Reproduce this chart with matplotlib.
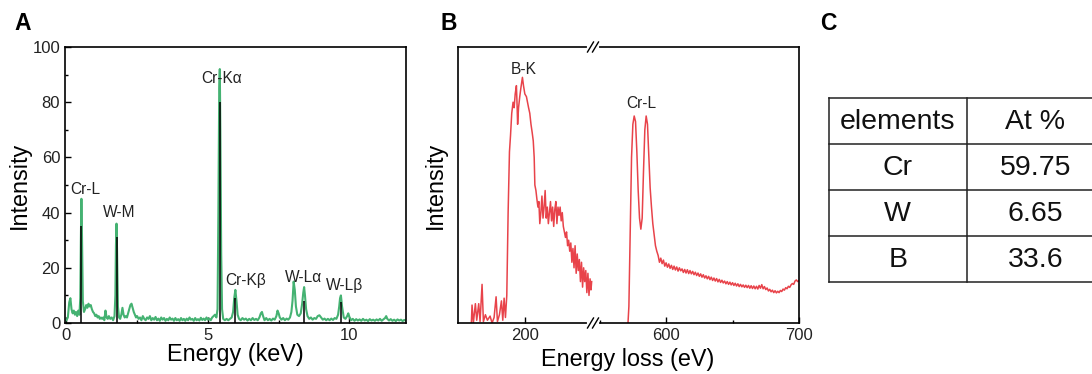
import matplotlib
matplotlib.use("Agg")
import matplotlib.pyplot as plt
from matplotlib.ticker import MultipleLocator, NullLocator
from matplotlib.lines import Line2D

plt.rcParams['font.family'] = ['Liberation Sans', 'DejaVu Sans']

# ---------------- Panel A: EDS spectrum ----------------
eds_points = [
    (0.00, 1.0), (0.05, 2.0), (0.10, 7.5), (0.14, 9.0), (0.18, 5.0), (0.22, 3.5), (0.26, 4.5),
    (0.30, 3.0), (0.34, 4.0), (0.38, 2.5), (0.42, 4.5), (0.46, 3.0), (0.49, 9.0), (0.51, 30.0),
    (0.53, 45.0), (0.55, 32.0), (0.58, 8.0), (0.62, 4.0), (0.66, 5.0), (0.70, 6.5), (0.74, 5.5),
    (0.78, 7.0), (0.82, 6.0), (0.86, 6.5), (0.90, 5.0), (0.94, 4.0), (0.98, 3.5), (1.02, 2.5),
    (1.06, 3.0), (1.10, 2.0), (1.14, 2.5), (1.18, 1.5), (1.22, 2.0), (1.26, 1.5), (1.30, 2.0),
    (1.34, 1.0), (1.38, 4.5), (1.42, 2.0), (1.46, 1.5), (1.50, 2.5), (1.55, 1.5), (1.60, 2.0),
    (1.65, 1.0), (1.70, 2.5), (1.73, 10.0), (1.75, 28.0), (1.77, 36.0), (1.79, 26.0), (1.82, 6.0),
    (1.86, 2.0), (1.90, 1.5), (1.94, 3.0), (1.98, 5.5), (2.02, 3.0), (2.06, 2.0), (2.10, 2.5),
    (2.14, 2.0), (2.18, 3.5), (2.22, 5.0), (2.26, 6.5), (2.30, 7.0), (2.34, 5.5), (2.38, 4.0),
    (2.42, 3.0), (2.46, 2.0), (2.50, 2.5), (2.55, 1.5), (2.60, 2.0), (2.65, 1.0), (2.70, 2.5),
    (2.75, 1.5), (2.80, 1.0), (2.85, 2.0), (2.90, 1.5), (2.95, 2.5), (3.00, 1.0), (3.05, 1.8),
    (3.10, 1.2), (3.15, 2.2), (3.20, 1.0), (3.25, 1.6), (3.30, 0.8), (3.35, 2.0), (3.40, 1.2),
    (3.45, 1.8), (3.50, 0.8), (3.55, 1.5), (3.60, 1.0), (3.65, 2.0), (3.70, 1.2), (3.75, 1.6),
    (3.80, 0.8), (3.85, 1.8), (3.90, 1.0), (3.95, 1.4), (4.00, 0.8), (4.05, 1.8), (4.10, 1.0),
    (4.15, 1.5), (4.20, 0.8), (4.25, 1.6), (4.30, 1.0), (4.35, 2.0), (4.40, 1.2), (4.45, 1.5),
    (4.50, 0.8), (4.55, 1.8), (4.60, 1.0), (4.65, 1.4), (4.70, 0.9), (4.75, 1.9), (4.80, 1.1),
    (4.85, 1.6), (4.90, 1.0), (4.95, 2.0), (5.00, 1.2), (5.05, 1.6), (5.10, 1.0), (5.15, 2.0),
    (5.20, 2.5), (5.25, 3.0), (5.30, 2.0), (5.34, 5.0), (5.37, 40.0), (5.40, 85.0), (5.42, 92.0),
    (5.44, 70.0), (5.47, 25.0), (5.50, 5.0), (5.54, 1.5), (5.60, 1.0), (5.66, 1.5), (5.72, 1.0),
    (5.78, 1.5), (5.84, 2.0), (5.89, 4.0), (5.93, 9.0), (5.97, 12.0), (6.01, 8.0), (6.05, 3.0),
    (6.10, 1.5), (6.16, 1.0), (6.22, 1.8), (6.28, 1.2), (6.34, 1.6), (6.40, 0.9), (6.46, 1.5),
    (6.52, 1.0), (6.58, 1.8), (6.64, 1.1), (6.70, 1.5), (6.76, 1.0), (6.82, 2.0), (6.87, 3.5),
    (6.91, 4.0), (6.95, 2.5), (7.00, 1.0), (7.06, 1.8), (7.12, 1.0), (7.18, 1.5), (7.24, 0.9),
    (7.30, 1.6), (7.36, 1.2), (7.42, 2.5), (7.46, 4.5), (7.50, 3.5), (7.54, 2.0), (7.60, 1.2),
    (7.66, 1.8), (7.72, 1.0), (7.78, 1.6), (7.84, 1.2), (7.90, 2.0), (7.95, 4.0), (7.99, 8.0),
    (8.03, 15.0), (8.07, 12.0), (8.11, 6.0), (8.16, 3.0), (8.22, 2.5), (8.28, 3.5), (8.33, 7.0),
    (8.37, 11.0), (8.40, 13.0), (8.43, 10.0), (8.47, 5.0), (8.52, 2.5), (8.58, 1.5), (8.64, 2.0),
    (8.70, 1.2), (8.76, 1.8), (8.82, 1.5), (8.88, 2.5), (8.94, 2.8), (9.00, 2.0), (9.06, 1.2),
    (9.12, 1.6), (9.18, 1.0), (9.24, 1.5), (9.30, 1.0), (9.36, 1.6), (9.42, 1.1), (9.48, 1.8),
    (9.54, 1.5), (9.60, 3.0), (9.64, 6.0), (9.67, 9.0), (9.70, 10.0), (9.74, 6.0), (9.80, 2.0),
    (9.86, 1.5), (9.92, 2.5), (9.96, 3.5), (10.00, 2.2), (10.06, 1.0), (10.12, 1.5), (10.18, 0.8),
    (10.24, 1.4), (10.30, 0.9), (10.36, 1.3), (10.42, 0.8), (10.48, 1.5), (10.54, 0.9),
    (10.60, 1.2), (10.66, 0.7), (10.72, 1.4), (10.78, 0.9), (10.84, 1.2), (10.90, 0.8),
    (10.96, 1.3), (11.02, 0.9), (11.08, 1.5), (11.14, 0.8), (11.20, 1.3), (11.26, 1.8),
    (11.30, 2.5), (11.34, 1.5), (11.40, 0.9), (11.46, 1.4), (11.52, 0.8), (11.58, 1.2),
    (11.64, 0.7), (11.70, 1.3), (11.76, 0.9), (11.82, 1.2), (11.88, 0.7), (11.94, 1.1), (12.00, 0.8),
]
eds_energy = [p[0] for p in eds_points]
eds_intensity = [p[1] for p in eds_points]

# reference (black) lines
ref_energy = [0.52, 1.77, 5.42, 5.97, 8.40, 9.69]
ref_height = [35, 31, 80, 9, 8, 7.5]

eds_labels = ['Cr-L', 'W-M', 'Cr-Kα', 'Cr-Kβ', 'W-Lα', 'W-Lβ']
eds_label_x = [0.12, 1.85, 5.48, 6.33, 8.39, 9.82]
eds_label_y = [48.5, 40.0, 88.5, 15.5, 16.5, 13.5]
eds_label_ha = ['left', 'center', 'center', 'center', 'center', 'center']

# ---------------- Panel B: EELS spectrum ----------------
eels_low_points = [
    (160.0, 0.0), (160.5, 6.5), (161.5, 0.0), (163.0, 7.0), (164.0, 1.0), (165.5, 7.0),
    (166.5, 0.5), (168.0, 14.0), (169.0, 0.5), (170.5, 3.0), (172.0, 1.0), (174.0, 2.5),
    (175.5, 0.0), (177.0, 2.0), (178.5, 9.5), (179.5, 0.5), (181.0, 3.0), (182.5, 8.0),
    (183.5, 1.0), (184.5, 9.0), (185.5, 2.0), (186.5, 10.0), (187.5, 40.0), (188.5, 62.0),
    (189.3, 68.0), (190.2, 76.0), (191.2, 80.0), (192.0, 78.0), (192.8, 83.0), (193.7, 86.0),
    (194.2, 79.0), (194.6, 72.0), (195.3, 78.0), (196.2, 82.0), (197.0, 85.0), (198.2, 89.0),
    (199.0, 86.0), (200.0, 83.0), (201.2, 82.0), (202.0, 80.0), (202.8, 78.0), (203.7, 76.0),
    (204.6, 72.0), (205.5, 69.0), (206.3, 66.0), (207.0, 60.0), (207.5, 50.0), (208.3, 48.0),
    (209.0, 45.0), (209.8, 42.0), (210.5, 44.0), (211.2, 36.0), (212.0, 40.0), (212.8, 46.0),
    (213.6, 38.0), (214.4, 42.0), (215.2, 48.0), (216.0, 38.0), (216.8, 42.0), (217.6, 36.0),
    (218.4, 40.0), (219.2, 44.0), (220.0, 37.0), (220.8, 42.0), (221.6, 35.0), (222.4, 41.0),
    (223.2, 44.0), (224.0, 36.0), (224.8, 42.0), (225.6, 39.0), (226.4, 42.0), (227.2, 37.0),
    (228.0, 40.0), (228.8, 35.0), (229.6, 33.0), (230.4, 31.0), (231.2, 33.0), (232.0, 28.0),
    (232.8, 30.0), (233.6, 26.0), (234.4, 29.0), (235.2, 22.0), (236.0, 27.0), (236.8, 20.0),
    (237.6, 28.0), (238.4, 18.0), (239.2, 25.0), (240.0, 19.0), (240.8, 23.0), (241.6, 15.0),
    (242.4, 22.0), (243.2, 13.0), (244.0, 20.0), (244.8, 15.0), (245.6, 19.0), (246.4, 11.0),
    (247.2, 18.0), (248.0, 10.0), (248.8, 16.0), (249.5, 12.0), (250.0, 15.0),
]
eels_low_energy = [p[0] for p in eels_low_points]
eels_low_intensity = [p[1] for p in eels_low_points]

eels_high_points = [
    (571.0, -3.0), (572.0, 6.0), (573.0, 32.0), (574.0, 60.0), (575.0, 72.0), (576.0, 75.0),
    (577.0, 73.0), (578.0, 62.0), (579.0, 48.0), (580.0, 38.0), (581.0, 34.0), (582.0, 38.0),
    (583.0, 55.0), (584.0, 70.0), (585.0, 75.0), (586.0, 72.0), (587.0, 60.0), (588.0, 49.0),
    (589.0, 42.0), (590.0, 36.0), (591.0, 32.0), (592.0, 28.0), (593.0, 26.0), (594.0, 24.5),
    (595.0, 22.0), (596.0, 23.5), (597.0, 21.5), (598.0, 22.8), (599.0, 20.6), (600.0, 21.8),
    (601.0, 20.2), (602.0, 21.4), (603.0, 19.8), (604.0, 20.9), (605.0, 19.4), (606.0, 20.6),
    (607.0, 19.2), (608.0, 20.3), (609.0, 18.8), (610.0, 20.0), (611.0, 18.9), (612.0, 19.6),
    (613.0, 18.3), (614.0, 19.4), (615.0, 18.1), (616.0, 19.3), (617.0, 17.9), (618.0, 19.0),
    (619.0, 17.8), (620.0, 18.7), (621.0, 17.5), (622.0, 18.4), (623.0, 17.2), (624.0, 18.1),
    (625.0, 16.9), (626.0, 17.8), (627.0, 16.6), (628.0, 17.5), (629.0, 16.3), (630.0, 17.1),
    (631.0, 16.0), (632.0, 16.9), (633.0, 15.7), (634.0, 16.6), (635.0, 15.4), (636.0, 16.3),
    (637.0, 15.2), (638.0, 16.1), (639.0, 14.9), (640.0, 15.8), (641.0, 14.7), (642.0, 15.5),
    (643.0, 14.5), (644.0, 15.2), (645.0, 14.2), (646.0, 15.0), (647.0, 14.0), (648.0, 14.8),
    (649.0, 13.8), (650.0, 14.6), (651.0, 13.6), (652.0, 14.4), (653.0, 13.4), (654.0, 14.2),
    (655.0, 13.2), (656.0, 14.0), (657.0, 13.1), (658.0, 13.8), (659.0, 12.9), (660.0, 13.7),
    (661.0, 12.8), (662.0, 13.6), (663.0, 12.6), (664.0, 13.5), (665.0, 12.5), (666.0, 13.4),
    (667.0, 12.4), (668.0, 13.3), (669.0, 12.3), (670.0, 13.6), (671.0, 12.6), (672.0, 13.9),
    (673.0, 12.4), (674.0, 13.2), (675.0, 12.1), (676.0, 12.7), (677.0, 11.6), (678.0, 12.2),
    (679.0, 11.3), (680.0, 11.9), (681.0, 11.0), (682.0, 11.7), (683.0, 10.9), (684.0, 11.5),
    (685.0, 11.0), (686.0, 11.8), (687.0, 11.4), (688.0, 12.3), (689.0, 11.9), (690.0, 12.8),
    (691.0, 12.4), (692.0, 13.3), (693.0, 12.9), (694.0, 13.8), (695.0, 14.3), (696.0, 14.0),
    (697.0, 15.2), (698.0, 15.6), (699.0, 15.0), (700.0, 15.4),
]
eels_high_energy = [p[0] for p in eels_high_points]
eels_high_intensity = [p[1] for p in eels_high_points]

eels_labels = ['B-K', 'Cr-L']
eels_label_x = [199.0, 581.0]
eels_label_y = [92.0, 79.5]

# ---------------- Panel C: table ----------------
table_header = ['elements', 'At %']
table_elements = ['Cr', 'W', 'B']
table_at_pct = ['59.75', '6.65', '33.6']

# ======================================================
W, H = 1092, 374
fig = plt.figure(figsize=(W / 100, H / 100), dpi=100)

def rect(x0, y0, x1, y1):
    return [x0 / W, 1 - y1 / H, (x1 - x0) / W, (y1 - y0) / H]

green = '#45b272'
red = '#e8434a'
tick_fs = 12
label_fs = 16.8
ann_fs = 11.2
spine_lw = 1.2

# ---- A ----
axA = fig.add_axes(rect(65, 47, 406, 323))
axA.plot(eds_energy, eds_intensity, color=green, lw=1.5)
axA.vlines(ref_energy, 0, ref_height, color='black', lw=1.1)
axA.set_xlim(-0.05, 12)
axA.set_ylim(0, 100)
axA.xaxis.set_major_locator(MultipleLocator(5))
axA.xaxis.set_minor_locator(MultipleLocator(2.5))
axA.yaxis.set_major_locator(MultipleLocator(20))
axA.yaxis.set_minor_locator(MultipleLocator(10))
axA.tick_params(which='both', direction='in', labelsize=tick_fs, width=1.0, labelcolor='#222222')
axA.tick_params(which='major', length=4)
axA.tick_params(which='minor', length=2.5)
axA.set_xlabel('Energy (keV)', fontsize=label_fs, labelpad=0)
axA.set_ylabel('Intensity', fontsize=label_fs, labelpad=1)
for s in axA.spines.values():
    s.set_linewidth(spine_lw)
for t, x, y, ha in zip(eds_labels, eds_label_x, eds_label_y, eds_label_ha):
    axA.text(x, y, t, fontsize=ann_fs, ha=ha, va='center', color='#222222')

# ---- B ----
axB1 = fig.add_axes(rect(458, 47, 593, 323))
axB2 = fig.add_axes(rect(593, 47, 799, 323))
axB1.plot(eels_low_energy, eels_low_intensity, color=red, lw=1.1)
axB2.plot(eels_high_energy, eels_high_intensity, color=red, lw=1.1)
axB1.set_xlim(150, 251)
axB2.set_xlim(545, 700)
for ax in (axB1, axB2):
    ax.set_ylim(0, 100)
    ax.yaxis.set_major_locator(NullLocator())
    ax.tick_params(which='both', direction='in', labelsize=tick_fs, width=1.0, labelcolor='#222222')
    ax.tick_params(which='major', length=4)
    ax.tick_params(which='minor', length=2.5)
    for s in ax.spines.values():
        s.set_linewidth(spine_lw)
axB1.set_xticks([200])
axB2.set_xticks([600, 700])
axB2.xaxis.set_minor_locator(MultipleLocator(50))
axB1.spines['right'].set_visible(False)
axB2.spines['left'].set_visible(False)
axB1.set_ylabel('Intensity', fontsize=label_fs, labelpad=8)
fig.text(628 / W, 1 - 371 / H, 'Energy loss (eV)', fontsize=label_fs, ha='center', va='bottom')
for t, x, y in zip(eels_labels, eels_label_x, eels_label_y):
    ax = axB1 if x < 300 else axB2
    ax.text(x, y, t, fontsize=ann_fs, ha='center', va='center', color='#222222')

# break marks
for yb in (47, 323):
    fig.add_artist(Line2D([589 / W, 597 / W], [1 - yb / H, 1 - yb / H], color='white', lw=3,
                          transform=fig.transFigure))
    for dx in (-2.5, 2.5):
        xc = 593 + dx
        fig.add_artist(Line2D([(xc - 3) / W, (xc + 3) / W], [1 - (yb + 5) / H, 1 - (yb - 5) / H],
                              color='black', lw=1.0, transform=fig.transFigure))

# ---- C (table) ----
axC = fig.add_axes(rect(829, 98, 1104, 282))
axC.set_xlim(0, 2)
axC.set_ylim(4, 0)
axC.axis('off')
n_rows = len(table_elements) + 1
for r in range(n_rows + 1):
    axC.plot([0, 2], [r, r], color='#222222', lw=1.1, clip_on=False)
for c in (0, 1, 2):
    axC.plot([c, c], [0, n_rows], color='#222222', lw=1.1, clip_on=False)
rows = [table_header] + [[e, v] for e, v in zip(table_elements, table_at_pct)]
for r, row in enumerate(rows):
    for c, txt in enumerate(row):
        axC.text(c + 0.5, r + 0.52, txt, fontsize=20.5, ha='center', va='center', color='#111111')

# panel letters
fig.text(14 / W, 1 - 35 / H, 'A', fontsize=16.5, fontweight='bold', ha='left', va='bottom')
fig.text(440 / W, 1 - 35 / H, 'B', fontsize=16.5, fontweight='bold', ha='left', va='bottom')
fig.text(820 / W, 1 - 35 / H, 'C', fontsize=16.5, fontweight='bold', ha='left', va='bottom')

fig.savefig('out.png', dpi=100)
